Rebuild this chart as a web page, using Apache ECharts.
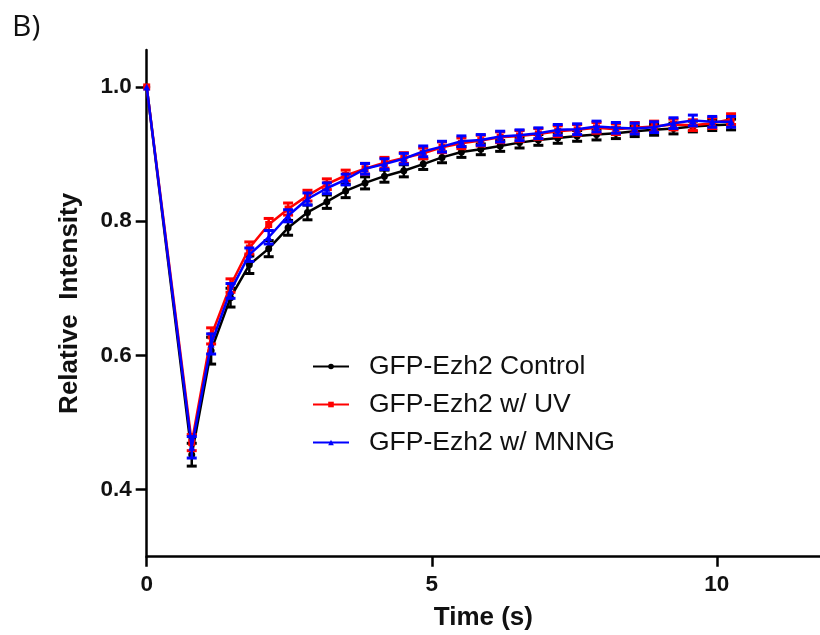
<!DOCTYPE html>
<html>
<head>
<meta charset="utf-8">
<script src="https://cdn.jsdelivr.net/npm/echarts@6/dist/echarts.min.js"></script>
<style>html,body{margin:0;padding:0;background:#fff}#c{width:820px;height:635px}</style>
</head>
<body>
<div id="c"></div>
<script>
// ---- data ----
const times = [0, 0.79, 1.13, 1.47, 1.80, 2.14, 2.48, 2.82, 3.16, 3.49, 3.83, 4.17, 4.51, 4.85, 5.18, 5.52, 5.86, 6.20, 6.54, 6.87, 7.21, 7.55, 7.89, 8.23, 8.56, 8.90, 9.24, 9.58, 9.92, 10.25];
const control = [1.0, 0.452, 0.607, 0.686, 0.735, 0.759, 0.790, 0.813, 0.829, 0.845, 0.857, 0.867, 0.875, 0.885, 0.895, 0.903, 0.907, 0.912, 0.917, 0.921, 0.924, 0.927, 0.929, 0.931, 0.934, 0.936, 0.938, 0.941, 0.943, 0.944];
const controlErr = [0, 0.017, 0.020, 0.014, 0.013, 0.012, 0.011, 0.011, 0.010, 0.010, 0.009, 0.009, 0.009, 0.008, 0.008, 0.008, 0.008, 0.008, 0.008, 0.008, 0.008, 0.008, 0.008, 0.008, 0.008, 0.008, 0.008, 0.008, 0.008, 0.008];
const uv = [1.0, 0.470, 0.629, 0.704, 0.760, 0.795, 0.818, 0.838, 0.855, 0.868, 0.878, 0.887, 0.894, 0.901, 0.910, 0.916, 0.920, 0.925, 0.927, 0.930, 0.934, 0.936, 0.939, 0.937, 0.939, 0.941, 0.944, 0.943, 0.946, 0.952];
const uvErr = [0, 0.012, 0.012, 0.010, 0.009, 0.009, 0.009, 0.008, 0.008, 0.008, 0.008, 0.008, 0.008, 0.008, 0.008, 0.008, 0.008, 0.008, 0.008, 0.008, 0.008, 0.008, 0.008, 0.008, 0.008, 0.008, 0.008, 0.008, 0.008, 0.008];
const mnng = [1.0, 0.463, 0.617, 0.696, 0.750, 0.776, 0.808, 0.833, 0.849, 0.862, 0.878, 0.885, 0.893, 0.904, 0.911, 0.919, 0.921, 0.926, 0.928, 0.931, 0.936, 0.937, 0.941, 0.939, 0.938, 0.940, 0.946, 0.950, 0.948, 0.948];
const mnngErr = [0, 0.016, 0.015, 0.011, 0.010, 0.010, 0.009, 0.009, 0.008, 0.008, 0.008, 0.008, 0.008, 0.008, 0.008, 0.008, 0.008, 0.008, 0.008, 0.008, 0.008, 0.008, 0.008, 0.008, 0.008, 0.008, 0.008, 0.008, 0.008, 0.008];
const seriesNames = ['GFP-Ezh2 Control', 'GFP-Ezh2 w/ UV', 'GFP-Ezh2 w/ MNNG'];
const xTicks = [0, 5, 10];
const yTicks = [0.4, 0.6, 0.8, 1.0];

const FONT = "'Liberation Sans', Arial, sans-serif";
const colors = ['#000000', '#ff0000', '#0000ff'];
const symbols = ['circle', 'rect', 'triangle'];
const means = [control, uv, mnng];
const errs = [controlErr, uvErr, mnngErr];

function errSeries(idx) {
  return {
    type: 'custom',
    name: 'err' + idx,
    silent: true,
    clip: false,
    z: 2 + idx * 2,
    data: times.map((t, i) => [t, means[idx][i], errs[idx][i]]),
    encode: { x: 0, y: 1 },
    renderItem: function (params, api) {
      const x = api.value(0), y = api.value(1), e = api.value(2);
      if (!e) return null;
      const top = api.coord([x, y + e]);
      const bot = api.coord([x, y - e]);
      const h = 5;
      const st = { stroke: colors[idx], lineWidth: 2.5 };
      const cap = { stroke: colors[idx], lineWidth: 3 };
      return {
        type: 'group',
        children: [
          { type: 'line', shape: { x1: top[0], y1: top[1], x2: bot[0], y2: bot[1] }, style: st },
          { type: 'line', shape: { x1: top[0] - h, y1: top[1], x2: top[0] + h, y2: top[1] }, style: cap },
          { type: 'line', shape: { x1: bot[0] - h, y1: bot[1], x2: bot[0] + h, y2: bot[1] }, style: cap }
        ]
      };
    }
  };
}
function lineSeries(idx) {
  return {
    type: 'line',
    name: seriesNames[idx],
    data: times.map((t, i) => [t, means[idx][i]]),
    symbol: symbols[idx],
    symbolSize: 7,
    showAllSymbol: true,
    z: 3 + idx * 2,
    clip: false,
    color: colors[idx],
    lineStyle: { color: colors[idx], width: 2.5 },
    itemStyle: { color: colors[idx] },
    emphasis: { disabled: true },
    animation: false
  };
}

const chart = echarts.init(document.getElementById('c'), null, { renderer: 'canvas' });
chart.setOption({
  animation: false,
  backgroundColor: '#fff',
  graphic: [{
    type: 'text', left: 12, top: 12,
    style: { text: 'B)', font: "30px 'Open Sans', sans-serif", fill: '#111' }
  }],
  legend: {
    data: seriesNames,
    orient: 'vertical',
    left: 307, top: 348,
    itemWidth: 36, itemHeight: 7,
    itemGap: 11,
    textStyle: { fontFamily: FONT, fontSize: 26.5, color: '#111', lineHeight: 26.5, padding: [0, 0, 0, 15] }
  },
  grid: { left: 146.7, right: 0, top: 50, bottom: 78.3, outerBoundsMode: 'none' },
  xAxis: {
    type: 'value', min: 0, max: 11.81,
    name: 'Time (s)', nameLocation: 'middle', nameGap: 48,
    nameTextStyle: { fontFamily: FONT, fontSize: 26, fontWeight: 'bold', color: '#111' },
    axisLine: { show: true, lineStyle: { color: '#000', width: 2.5 } },
    axisTick: { show: true, length: 10, lineStyle: { color: '#000', width: 2.5 }, customValues: xTicks },
    axisLabel: { customValues: xTicks, margin: 17, fontFamily: FONT, fontSize: 22.5, fontWeight: 'bold', color: '#111' },
    splitLine: { show: false }
  },
  yAxis: {
    type: 'value', min: 0.3, max: 1.055,
    name: 'Relative  Intensity', nameLocation: 'middle', nameGap: 64, nameRotate: 90,
    nameTextStyle: { fontFamily: FONT, fontSize: 26, fontWeight: 'bold', color: '#111' },
    axisLine: { show: true, lineStyle: { color: '#000', width: 2.5 } },
    axisTick: { show: true, length: 11, lineStyle: { color: '#000', width: 2.5 }, customValues: yTicks },
    axisLabel: { customValues: yTicks, margin: 15, fontFamily: FONT, fontSize: 22.5, fontWeight: 'bold', color: '#111',
      formatter: v => v.toFixed(1) },
    splitLine: { show: false }
  },
  series: [errSeries(0), lineSeries(0), errSeries(1), lineSeries(1), errSeries(2), lineSeries(2)]
});
</script>
</body>
</html>
